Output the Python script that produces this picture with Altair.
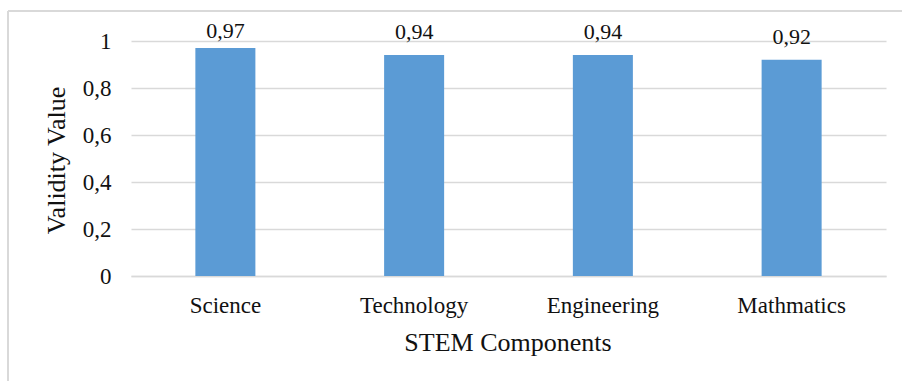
import altair as alt
import pandas as pd

# STEM component validity scores
components = ["Science", "Technology", "Engineering", "Mathmatics"]
validity = [0.97, 0.94, 0.94, 0.92]
y_ticks = [0, 0.2, 0.4, 0.6, 0.8, 1.0]

df = pd.DataFrame({"component": components, "validity": validity})

FONT = "Liberation Serif"
GRID = "#d9d9d9"
BAR = "#5B9BD5"
INK = "#111111"

W, H = 755, 235

x_axis = alt.Axis(
    title="STEM Components",
    labelAngle=0,
    labelFont=FONT,
    labelFontSize=23,
    labelColor=INK,
    labelBaseline="alphabetic",
    labelPadding=36,
    ticks=False,
    tickSize=0,
    domainColor=GRID,
    domainWidth=1.5,
    titleFont=FONT,
    titleFontSize=26,
    titleFontWeight="normal",
    titleColor=INK,
    titleBaseline="alphabetic",
    titleX=W / 2 - 1,
    titleY=74,
)

y_axis = alt.Axis(
    title="Validity Value",
    values=y_ticks,
    labelExpr="replace(format(datum.value, '.1~f'), '.', ',')",
    labelFont=FONT,
    labelFontSize=23,
    labelColor=INK,
    labelPadding=20,
    ticks=False,
    tickSize=0,
    domain=False,
    grid=True,
    gridColor=GRID,
    gridWidth=1.5,
    titleFont=FONT,
    titleFontSize=26,
    titleFontWeight="normal",
    titleColor=INK,
    titleAlign="center",
    titleBaseline="alphabetic",
    titleX=-67,
    titleY=119,
)

x_scale = alt.Scale(paddingInner=0.682, paddingOuter=0.341)
y_scale = alt.Scale(domain=[0, 1], nice=False)

bars = alt.Chart(df).mark_bar(color=BAR).encode(
    x=alt.X("component:N", sort=components, scale=x_scale, axis=x_axis),
    y=alt.Y("validity:Q", scale=y_scale, axis=y_axis),
)

# value labels sit above each bar, kept inside the chart's top edge
labels = (
    alt.Chart(df)
    .transform_calculate(
        label="replace(format(datum.validity, '.2f'), '.', ',')",
        label_y="min(datum.validity + 0.069, 1.013)",
    )
    .mark_text(font=FONT, fontSize=22, color=INK, baseline="alphabetic", align="center")
    .encode(
        x=alt.X("component:N", sort=components, scale=x_scale, axis=x_axis),
        y=alt.Y("label_y:Q", scale=y_scale, axis=y_axis),
        text="label:N",
    )
)

# light frame around the chart area (top and left edges)
frame_data = alt.Data(values=[{}])
frame_top = alt.Chart(frame_data).mark_rule(color=GRID, strokeWidth=2).encode(
    x=alt.value(-123), x2=alt.value(W + 20), y=alt.value(-30)
)
frame_left = alt.Chart(frame_data).mark_rule(color=GRID, strokeWidth=2).encode(
    x=alt.value(-123), y=alt.value(-30), y2=alt.value(H + 110)
)

chart = (
    alt.layer(bars, labels, frame_top, frame_left)
    .properties(
        width=W,
        height=H,
        autosize=alt.AutoSizeParams(type="none"),
        padding={"left": 131, "top": 41, "right": 16, "bottom": 105},
        background="white",
    )
    .configure_view(stroke=None)
)

chart.save("out.html", embed_options={"renderer": "svg", "actions": False})
